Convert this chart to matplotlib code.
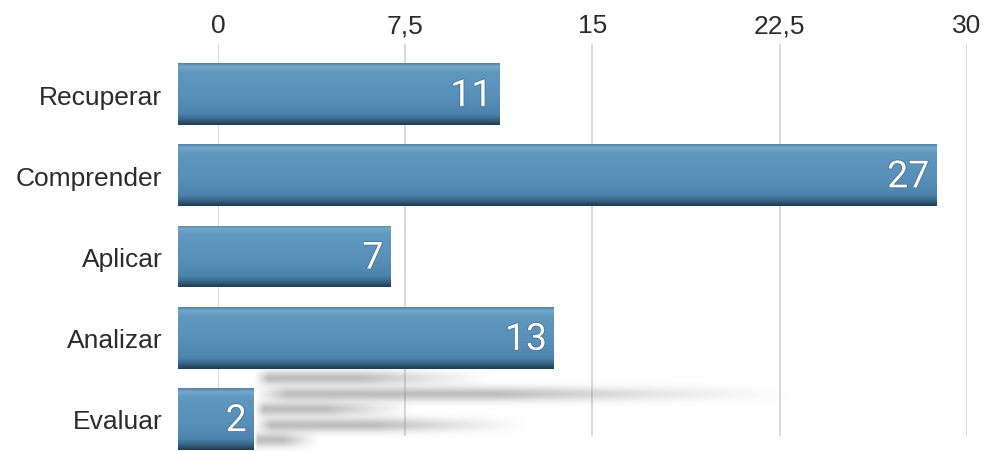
import numpy as np
import matplotlib.pyplot as plt
import matplotlib.patheffects as pe
from matplotlib import font_manager
from matplotlib.colors import LinearSegmentedColormap

categorias = ['Recuperar', 'Comprender', 'Aplicar', 'Analizar', 'Evaluar']
valores = [11, 27, 7, 13, 2]
ticks = [0, 7.5, 15, 22.5, 30]
tick_labels = ['0', '7,5', '15', '22,5', '30']

nombres = {f.name for f in font_manager.fontManager.ttflist}
fuente_valor = [f for f in ['Liberation Sans Narrow', 'Roboto', 'DejaVu Sans'] if f in nombres]
plt.rcParams['font.family'] = ['Liberation Sans', 'DejaVu Sans']

W, H = 987, 452
fig = plt.figure(figsize=(W / 100, H / 100), dpi=100)

# eje de la cuadricula / etiquetas
b, t = 1 - 437 / H, 1 - 45 / H
ax = fig.add_axes([218 / W, b, (967 - 218) / W, t - b])
ax.set_xlim(0, 30)
ax.set_ylim(4 + (437 - 420) / 81.25, (45 - 95) / 81.25)
ax.xaxis.tick_top()
ax.set_xticks(ticks, tick_labels)
ax.set_yticks(range(len(categorias)), categorias)
ax.tick_params(length=0, labelsize=19, colors='#2b2b2b')
ax.tick_params(axis='y', pad=40)
ax.tick_params(axis='x', pad=5)
for s in ax.spines.values():
    s.set_visible(False)
ax.grid(axis='x', color='#d2d2d2', lw=1.2)
ax.set_axisbelow(True)

# eje de las barras (perspectiva 3D: otra escala y algo de profundidad a la izquierda)
esc = 27.3
x_cero = 199
prof = (x_cero - 178) / esc
ax2 = fig.add_axes([178 / W, 0, (967 - 178) / W, 1])
ax2.set_xlim(-prof, (967 - x_cero) / esc)
ax2.set_ylim(4 + (452 - 420) / 81.25, -95 / 81.25)
ax2.axis('off')
ax2.patch.set_alpha(0)

# sombras / reflejos
ys = np.linspace(3.5, 4.26, len(valores))
yy = np.linspace(-1, 1, 50)[:, None]
xx = np.linspace(0, 1, 300)[None, :]
for y, v in zip(ys, valores):
    x0, x1 = 2.0, 3.0 + 0.7 * v
    a = np.exp(-(yy / 0.5) ** 2) * np.clip(xx / 0.06, 0, 1) * np.clip((1 - xx) / 0.55, 0, 1) ** 1.2
    img = np.zeros((50, 300, 4))
    img[..., :3] = 0.5
    img[..., 3] = 0.5 * a
    ax2.imshow(img, extent=(x0, x1, y + 0.17, y - 0.17), aspect='auto', zorder=1,
               interpolation='bilinear')

cmap = LinearSegmentedColormap.from_list('barra', [
    (0.0, '#5583a6'), (0.05, '#78a6c8'), (0.14, '#6098bf'), (0.55, '#5890ba'),
    (0.82, '#4c84ae'), (0.91, '#3a6789'), (1.0, '#213d52')])
grad = np.linspace(0, 1, 100)[:, None] * np.ones((1, 10))

h = 0.76
barras = ax2.barh(range(len(valores)), np.add(valores, prof), left=-prof, height=h,
                  color='#538ab4', zorder=2)
for i, (rect, v) in enumerate(zip(barras, valores)):
    im = ax2.imshow(grad, cmap=cmap, extent=(-prof, v, i + h / 2, i - h / 2), aspect='auto', zorder=3)
    im.set_clip_path(rect)
    ax2.text(v - 0.25, i + 0.02, str(v), ha='right', va='center', color='white', fontsize=27,
             family=fuente_valor, zorder=4,
             path_effects=[pe.withStroke(linewidth=1.0, foreground='#3d6a8c')])

fig.savefig('out.png', dpi=100)
